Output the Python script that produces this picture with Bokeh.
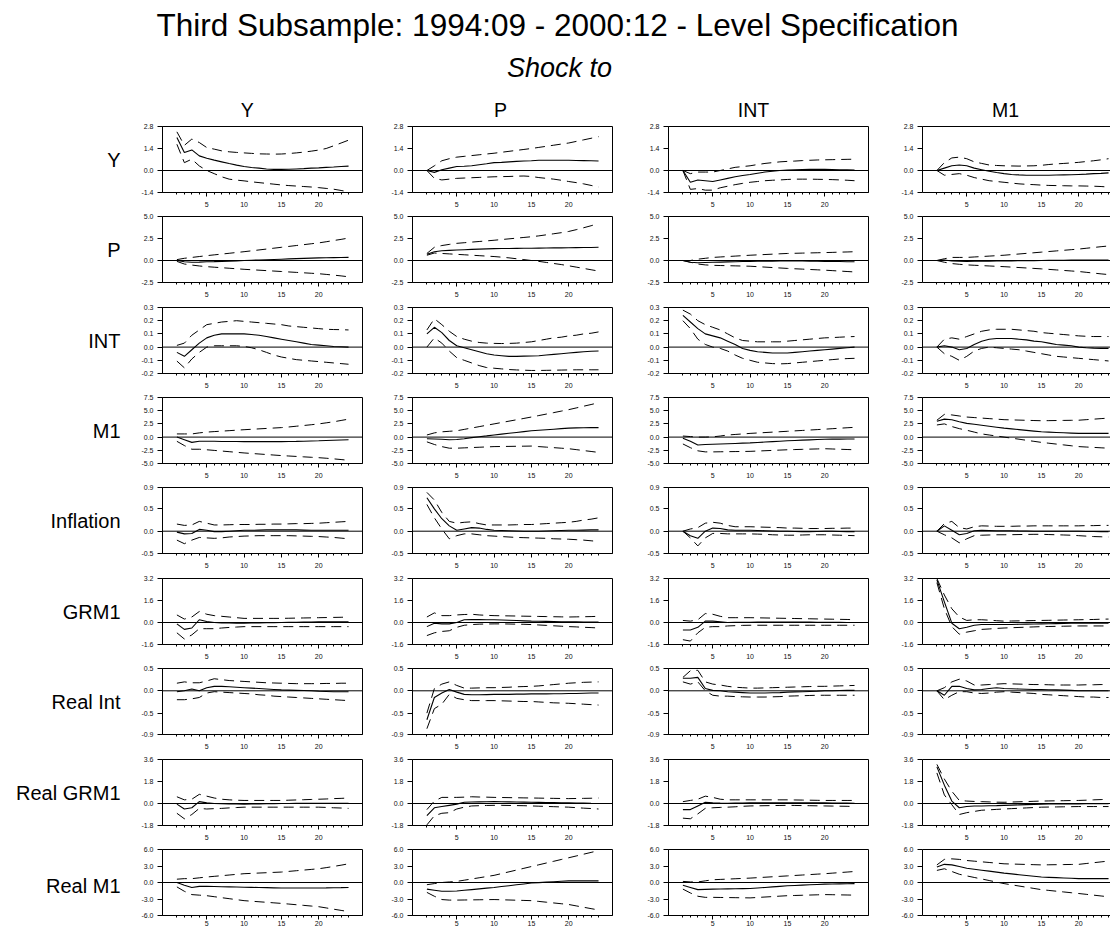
from bokeh.plotting import figure
from bokeh.layouts import column, row
from bokeh.models import Range1d, FixedTicker, CustomJSTickFormatter, Span, LinearAxis, ColumnDataSource
from bokeh.core.properties import value
from bokeh.embed import file_html
from bokeh.resources import INLINE

# ---------------- data ----------------
HORIZON = list(range(1, 25))
RESPONSES = ["Y", "P", "INT", "M1", "Inflation", "GRM1", "Real Int", "Real GRM1", "Real M1"]
SHOCKS = ["Y", "P", "INT", "M1"]
Y_LIMITS = [(-1.4, 2.8), (-2.5, 5.0), (-0.2, 0.3), (-5.0, 7.5), (-0.5, 0.98),
            (-1.6, 3.2), (-0.98, 0.5), (-1.8, 3.6), (-6.0, 6.0)]
Y_TICKS = [[-1.4, 0.0, 1.4, 2.8], [-2.5, 0.0, 2.5, 5.0], [-0.2, -0.1, 0.0, 0.1, 0.2, 0.3],
           [-5.0, -2.5, 0.0, 2.5, 5.0, 7.5], [-0.5, 0.0, 0.5, 0.98], [-1.6, 0.0, 1.6, 3.2],
           [-0.98, -0.5, 0.0, 0.5], [-1.8, 0.0, 1.8, 3.6], [-6.0, -3.0, 0.0, 3.0, 6.0]]
X_MAJOR = [5, 10, 15, 20]

# Y
irf_y_y = [2.10,1.14,1.31,0.93,0.78,0.66,0.55,0.44,0.34,0.25,0.19,0.15,0.10,0.07,0.07,0.08,0.10,0.12,0.15,0.17,0.20,0.22,0.25,0.28]
hi_y_y = [2.46,1.60,2.00,1.78,1.46,1.36,1.25,1.19,1.15,1.12,1.09,1.06,1.05,1.04,1.05,1.08,1.12,1.17,1.23,1.30,1.40,1.57,1.75,1.93]
lo_y_y = [1.67,0.50,0.72,0.29,0.00,-0.20,-0.40,-0.55,-0.61,-0.66,-0.72,-0.77,-0.82,-0.87,-0.92,-0.96,-0.99,-1.02,-1.05,-1.09,-1.14,-1.19,-1.27,-1.36]
irf_y_p = [0.00,-0.12,0.05,0.15,0.25,0.27,0.30,0.37,0.43,0.50,0.52,0.55,0.58,0.60,0.62,0.65,0.65,0.65,0.65,0.65,0.64,0.63,0.62,0.60]
hi_y_p = [0.00,0.30,0.62,0.75,0.85,0.90,0.95,1.00,1.05,1.10,1.16,1.22,1.28,1.34,1.40,1.47,1.54,1.61,1.68,1.75,1.85,1.95,2.05,2.15]
lo_y_p = [0.00,-0.50,-0.60,-0.55,-0.50,-0.48,-0.46,-0.44,-0.42,-0.40,-0.39,-0.38,-0.36,-0.35,-0.38,-0.45,-0.50,-0.55,-0.62,-0.70,-0.77,-0.85,-0.95,-1.05]
irf_y_int = [0.00,-0.75,-0.60,-0.65,-0.70,-0.60,-0.50,-0.40,-0.32,-0.25,-0.17,-0.10,-0.05,0.00,0.03,0.05,0.06,0.07,0.07,0.07,0.06,0.05,0.04,0.03]
hi_y_int = [0.00,-0.20,-0.10,-0.10,-0.10,0.00,0.10,0.20,0.25,0.30,0.38,0.45,0.50,0.55,0.58,0.60,0.63,0.65,0.67,0.68,0.69,0.70,0.71,0.72]
lo_y_int = [0.00,-1.20,-1.15,-1.25,-1.25,-1.10,-1.00,-0.90,-0.82,-0.75,-0.70,-0.65,-0.62,-0.60,-0.57,-0.55,-0.55,-0.55,-0.56,-0.57,-0.58,-0.60,-0.62,-0.65]
irf_y_m1 = [0.00,0.15,0.30,0.35,0.30,0.15,0.05,-0.05,-0.13,-0.20,-0.25,-0.28,-0.30,-0.30,-0.30,-0.30,-0.29,-0.28,-0.27,-0.25,-0.23,-0.20,-0.18,-0.15]
hi_y_m1 = [0.00,0.50,0.80,0.85,0.75,0.55,0.45,0.35,0.32,0.30,0.29,0.28,0.29,0.30,0.33,0.38,0.42,0.45,0.48,0.52,0.57,0.62,0.68,0.75]
lo_y_m1 = [0.00,-0.30,-0.25,-0.20,-0.30,-0.45,-0.55,-0.65,-0.70,-0.75,-0.80,-0.85,-0.88,-0.90,-0.93,-0.95,-0.96,-0.97,-0.98,-0.98,-0.99,-1.00,-1.02,-1.05]

# P
irf_p_y = [0.00,-0.15,-0.20,-0.18,-0.15,-0.13,-0.10,-0.07,-0.04,0.00,0.03,0.06,0.09,0.12,0.15,0.18,0.21,0.24,0.27,0.30,0.32,0.33,0.34,0.35]
hi_p_y = [0.10,0.25,0.35,0.45,0.55,0.64,0.73,0.82,0.91,1.00,1.10,1.20,1.30,1.40,1.50,1.60,1.70,1.80,1.90,2.00,2.13,2.27,2.40,2.55]
lo_p_y = [-0.10,-0.40,-0.52,-0.62,-0.70,-0.76,-0.82,-0.88,-0.94,-1.00,-1.05,-1.10,-1.15,-1.20,-1.25,-1.30,-1.35,-1.40,-1.45,-1.50,-1.58,-1.66,-1.75,-1.85]
irf_p_p = [0.70,1.00,1.10,1.15,1.20,1.23,1.26,1.29,1.32,1.35,1.36,1.37,1.38,1.39,1.40,1.41,1.42,1.43,1.44,1.45,1.46,1.47,1.48,1.50]
hi_p_p = [0.80,1.50,1.70,1.83,1.95,2.02,2.09,2.16,2.23,2.30,2.38,2.46,2.54,2.62,2.70,2.80,2.92,3.04,3.16,3.30,3.50,3.72,3.95,4.20]
lo_p_p = [0.60,0.85,0.80,0.75,0.70,0.65,0.60,0.55,0.50,0.45,0.38,0.30,0.20,0.10,0.00,-0.10,-0.22,-0.34,-0.46,-0.60,-0.75,-0.90,-1.05,-1.20]
irf_p_int = [0.00,-0.20,-0.25,-0.22,-0.20,-0.18,-0.16,-0.14,-0.12,-0.10,-0.09,-0.08,-0.07,-0.06,-0.05,-0.05,-0.06,-0.07,-0.08,-0.10,-0.11,-0.12,-0.14,-0.15]
hi_p_int = [0.00,0.00,0.15,0.25,0.35,0.40,0.45,0.50,0.55,0.60,0.64,0.68,0.72,0.76,0.80,0.82,0.84,0.86,0.88,0.90,0.92,0.95,0.97,1.00]
lo_p_int = [0.00,-0.20,-0.40,-0.50,-0.55,-0.57,-0.59,-0.61,-0.63,-0.65,-0.70,-0.75,-0.80,-0.85,-0.90,-0.94,-0.98,-1.02,-1.06,-1.10,-1.15,-1.20,-1.25,-1.30]
irf_p_m1 = [0.00,0.05,-0.05,-0.08,-0.10,-0.09,-0.08,-0.07,-0.06,-0.05,-0.04,-0.03,-0.02,-0.01,0.00,0.01,0.02,0.03,0.04,0.05,0.05,0.05,0.05,0.05]
hi_p_m1 = [0.00,0.20,0.35,0.35,0.35,0.40,0.45,0.50,0.55,0.60,0.67,0.74,0.81,0.88,0.95,1.02,1.09,1.16,1.23,1.30,1.39,1.48,1.57,1.65]
lo_p_m1 = [0.00,-0.20,-0.35,-0.43,-0.50,-0.54,-0.58,-0.62,-0.66,-0.70,-0.75,-0.80,-0.85,-0.90,-0.95,-1.01,-1.07,-1.13,-1.19,-1.25,-1.34,-1.43,-1.52,-1.60]

# INT
irf_int_y = [-0.04,-0.07,-0.02,0.03,0.07,0.09,0.10,0.10,0.10,0.10,0.095,0.09,0.08,0.07,0.06,0.05,0.04,0.03,0.02,0.015,0.01,0.005,0.003,0.0]
hi_int_y = [0.013,0.03,0.09,0.13,0.17,0.18,0.19,0.195,0.20,0.195,0.19,0.185,0.18,0.175,0.17,0.16,0.155,0.15,0.145,0.14,0.135,0.133,0.132,0.13]
lo_int_y = [-0.106,-0.157,-0.09,-0.04,0.0,0.01,0.01,0.01,0.01,0.005,-0.005,-0.02,-0.04,-0.06,-0.075,-0.085,-0.095,-0.10,-0.105,-0.11,-0.115,-0.12,-0.125,-0.13]
irf_int_p = [0.10,0.15,0.11,0.05,0.01,-0.005,-0.02,-0.035,-0.05,-0.06,-0.065,-0.07,-0.07,-0.068,-0.067,-0.065,-0.06,-0.055,-0.05,-0.045,-0.04,-0.035,-0.032,-0.03]
hi_int_p = [0.13,0.215,0.17,0.12,0.08,0.06,0.045,0.035,0.03,0.028,0.027,0.028,0.03,0.035,0.04,0.05,0.06,0.07,0.075,0.085,0.09,0.10,0.105,0.115]
lo_int_p = [0.00,0.07,0.03,-0.03,-0.08,-0.10,-0.12,-0.14,-0.155,-0.16,-0.165,-0.17,-0.173,-0.175,-0.177,-0.177,-0.176,-0.175,-0.174,-0.173,-0.172,-0.172,-0.172,-0.172]
irf_int_int = [0.24,0.19,0.14,0.10,0.085,0.07,0.045,0.02,-0.01,-0.025,-0.035,-0.04,-0.045,-0.045,-0.045,-0.04,-0.035,-0.03,-0.025,-0.02,-0.015,-0.01,-0.005,0.0]
hi_int_int = [0.28,0.25,0.20,0.17,0.15,0.13,0.10,0.07,0.05,0.045,0.04,0.04,0.04,0.04,0.045,0.05,0.055,0.06,0.065,0.07,0.072,0.075,0.078,0.08]
lo_int_int = [0.20,0.14,0.06,0.02,0.0,-0.01,-0.03,-0.06,-0.085,-0.10,-0.115,-0.12,-0.125,-0.127,-0.125,-0.12,-0.115,-0.11,-0.105,-0.10,-0.095,-0.09,-0.087,-0.085]
irf_int_m1 = [0.0,0.01,0.0,-0.02,-0.01,0.02,0.045,0.06,0.065,0.065,0.065,0.06,0.055,0.045,0.04,0.03,0.02,0.015,0.01,0.0,-0.005,-0.008,-0.01,-0.01]
hi_int_m1 = [0.0,0.06,0.07,0.06,0.08,0.10,0.12,0.13,0.135,0.135,0.135,0.13,0.125,0.12,0.11,0.105,0.10,0.095,0.09,0.085,0.082,0.08,0.08,0.08]
lo_int_m1 = [0.0,-0.05,-0.07,-0.10,-0.07,-0.03,-0.01,0.0,-0.005,-0.01,-0.015,-0.02,-0.03,-0.04,-0.05,-0.06,-0.07,-0.075,-0.08,-0.085,-0.09,-0.095,-0.10,-0.105]

# M1
irf_m1_y = [0.0,-0.5,-1.0,-0.8,-0.8,-0.8,-0.82,-0.83,-0.84,-0.85,-0.85,-0.85,-0.85,-0.85,-0.85,-0.83,-0.81,-0.78,-0.74,-0.70,-0.65,-0.60,-0.55,-0.50]
hi_m1_y = [0.6,0.6,0.6,0.8,0.95,1.04,1.13,1.22,1.31,1.40,1.48,1.56,1.64,1.72,1.80,1.92,2.06,2.20,2.34,2.50,2.70,2.90,3.15,3.40]
lo_m1_y = [-0.8,-1.6,-2.3,-2.3,-2.4,-2.52,-2.64,-2.76,-2.88,-3.0,-3.1,-3.2,-3.3,-3.4,-3.5,-3.58,-3.66,-3.74,-3.82,-3.9,-4.0,-4.12,-4.25,-4.4]
irf_m1_p = [-0.3,-0.35,-0.4,-0.5,-0.45,-0.3,-0.1,0.07,0.23,0.4,0.56,0.72,0.88,1.04,1.2,1.3,1.4,1.5,1.6,1.7,1.74,1.77,1.79,1.8]
hi_m1_p = [0.4,0.8,1.0,1.1,1.2,1.46,1.72,1.98,2.24,2.5,2.76,3.02,3.28,3.54,3.8,4.08,4.36,4.64,4.92,5.2,5.52,5.85,6.17,6.5]
lo_m1_p = [-0.9,-1.4,-1.8,-2.1,-2.1,-2.04,-1.98,-1.92,-1.86,-1.8,-1.78,-1.76,-1.74,-1.72,-1.7,-1.8,-1.9,-2.0,-2.1,-2.2,-2.37,-2.55,-2.72,-2.9]
irf_m1_int = [-0.2,-0.8,-1.5,-1.4,-1.35,-1.3,-1.25,-1.2,-1.15,-1.1,-1.02,-0.94,-0.86,-0.78,-0.7,-0.64,-0.58,-0.52,-0.46,-0.4,-0.39,-0.38,-0.36,-0.35]
hi_m1_int = [0.2,0.1,0.0,0.0,0.05,0.2,0.4,0.5,0.6,0.7,0.78,0.86,0.94,1.02,1.1,1.18,1.26,1.34,1.42,1.5,1.59,1.68,1.77,1.85]
lo_m1_int = [-1.3,-2.0,-2.6,-2.8,-2.8,-2.78,-2.76,-2.74,-2.72,-2.7,-2.64,-2.58,-2.52,-2.46,-2.4,-2.36,-2.32,-2.28,-2.24,-2.2,-2.25,-2.3,-2.35,-2.4]
irf_m1_m1 = [3.0,3.4,3.3,2.9,2.6,2.42,2.24,2.06,1.88,1.7,1.56,1.42,1.28,1.14,1.0,0.94,0.88,0.82,0.76,0.7,0.7,0.7,0.7,0.7]
hi_m1_m1 = [3.2,4.3,4.2,4.0,3.8,3.7,3.6,3.5,3.4,3.3,3.26,3.22,3.18,3.14,3.1,3.12,3.14,3.16,3.18,3.2,3.3,3.4,3.5,3.6]
lo_m1_m1 = [2.3,2.5,2.0,1.6,1.3,0.95,0.6,0.4,0.2,0.0,-0.2,-0.4,-0.6,-0.8,-1.0,-1.16,-1.32,-1.48,-1.64,-1.8,-1.88,-1.95,-2.03,-2.1]

# Inflation
irf_infl_y = [-0.02,-0.06,-0.05,0.04,0.02,-0.01,-0.01,0.0,0.01,0.02,0.02,0.025,0.03,0.03,0.03,0.03,0.03,0.025,0.02,0.02,0.02,0.02,0.02,0.02]
hi_infl_y = [0.16,0.13,0.14,0.22,0.18,0.14,0.14,0.145,0.15,0.15,0.15,0.155,0.155,0.16,0.16,0.165,0.17,0.17,0.175,0.18,0.19,0.2,0.21,0.22]
lo_infl_y = [-0.2,-0.28,-0.2,-0.14,-0.15,-0.16,-0.15,-0.13,-0.12,-0.11,-0.105,-0.1,-0.1,-0.1,-0.1,-0.1,-0.105,-0.11,-0.115,-0.12,-0.13,-0.14,-0.155,-0.17]
irf_infl_p = [0.75,0.5,0.28,0.12,0.02,0.05,0.08,0.07,0.04,0.02,0.015,0.01,0.005,0.0,0.0,0.0,0.005,0.01,0.015,0.02,0.02,0.025,0.03,0.03]
hi_infl_p = [0.87,0.7,0.42,0.22,0.18,0.2,0.21,0.17,0.14,0.14,0.14,0.14,0.145,0.15,0.15,0.16,0.17,0.18,0.19,0.2,0.22,0.25,0.27,0.3]
lo_infl_p = [0.6,0.3,0.05,-0.17,-0.1,-0.06,-0.06,-0.08,-0.1,-0.11,-0.12,-0.13,-0.14,-0.145,-0.15,-0.155,-0.16,-0.17,-0.175,-0.18,-0.19,-0.2,-0.215,-0.23]
irf_infl_int = [0.0,-0.1,-0.16,0.0,0.07,0.06,0.03,0.02,0.02,0.02,0.015,0.01,0.005,0.0,0.0,-0.005,-0.01,-0.01,-0.005,0.0,0.0,-0.005,-0.01,-0.01]
hi_infl_int = [0.0,0.05,0.08,0.18,0.2,0.18,0.13,0.1,0.1,0.1,0.095,0.09,0.085,0.08,0.07,0.07,0.065,0.06,0.06,0.06,0.065,0.065,0.07,0.07]
lo_infl_int = [0.0,-0.15,-0.33,-0.15,-0.05,-0.05,-0.06,-0.06,-0.06,-0.06,-0.065,-0.07,-0.08,-0.085,-0.09,-0.09,-0.085,-0.08,-0.08,-0.08,-0.085,-0.09,-0.095,-0.1]
irf_infl_m1 = [0.0,0.12,0.02,-0.08,-0.05,0.01,0.02,0.015,0.01,0.01,0.01,0.005,0.005,0.0,0.0,0.0,0.0,0.0,0.0,0.0,-0.005,-0.005,-0.01,-0.01]
hi_infl_m1 = [0.0,0.17,0.22,0.08,0.05,0.1,0.12,0.115,0.11,0.11,0.11,0.115,0.115,0.12,0.12,0.12,0.12,0.12,0.12,0.12,0.125,0.125,0.13,0.13]
lo_infl_m1 = [0.0,-0.08,-0.15,-0.26,-0.17,-0.1,-0.09,-0.085,-0.08,-0.08,-0.078,-0.075,-0.072,-0.07,-0.07,-0.075,-0.08,-0.085,-0.09,-0.1,-0.11,-0.12,-0.125,-0.13]

# GRM1
irf_grm1_y = [-0.1,-0.5,-0.4,0.2,0.07,0.0,-0.03,-0.04,-0.05,-0.05,-0.04,-0.03,-0.02,-0.01,0.0,0.01,0.02,0.03,0.04,0.05,0.05,0.05,0.05,0.05]
hi_grm1_y = [0.55,0.25,0.4,0.8,0.6,0.5,0.45,0.4,0.35,0.3,0.3,0.3,0.3,0.3,0.3,0.31,0.32,0.33,0.34,0.35,0.36,0.37,0.38,0.4]
lo_grm1_y = [-0.75,-1.2,-0.9,-0.45,-0.45,-0.45,-0.4,-0.36,-0.33,-0.3,-0.3,-0.3,-0.3,-0.3,-0.3,-0.3,-0.3,-0.3,-0.3,-0.3,-0.3,-0.3,-0.3,-0.3]
irf_grm1_p = [-0.3,-0.05,-0.1,-0.1,0.0,0.2,0.22,0.21,0.2,0.2,0.18,0.16,0.14,0.12,0.1,0.09,0.08,0.07,0.06,0.05,0.045,0.04,0.035,0.03]
hi_grm1_p = [0.4,0.7,0.5,0.5,0.55,0.58,0.6,0.55,0.52,0.5,0.49,0.48,0.47,0.46,0.45,0.44,0.43,0.42,0.41,0.4,0.41,0.42,0.43,0.45]
lo_grm1_p = [-0.95,-0.75,-0.65,-0.6,-0.35,-0.2,-0.15,-0.12,-0.11,-0.1,-0.1,-0.11,-0.12,-0.13,-0.15,-0.18,-0.21,-0.24,-0.27,-0.3,-0.32,-0.35,-0.37,-0.4]
irf_grm1_int = [-0.55,-0.55,-0.35,0.1,0.1,0.05,0.0,0.01,0.015,0.02,0.025,0.03,0.03,0.03,0.03,0.03,0.03,0.025,0.02,0.02,0.015,0.01,0.005,0.0]
hi_grm1_int = [0.15,0.1,0.2,0.65,0.6,0.45,0.35,0.35,0.35,0.35,0.34,0.33,0.32,0.31,0.3,0.29,0.28,0.27,0.26,0.25,0.24,0.23,0.22,0.2]
lo_grm1_int = [-1.25,-1.35,-0.75,-0.35,-0.3,-0.3,-0.25,-0.23,-0.21,-0.2,-0.2,-0.2,-0.2,-0.2,-0.2,-0.2,-0.2,-0.2,-0.2,-0.2,-0.2,-0.2,-0.2,-0.2]
irf_grm1_m1 = [3.1,1.5,-0.05,-0.45,-0.35,-0.2,-0.15,-0.15,-0.15,-0.15,-0.14,-0.13,-0.12,-0.11,-0.1,-0.09,-0.08,-0.07,-0.06,-0.05,-0.05,-0.05,-0.05,-0.05]
hi_grm1_m1 = [3.2,2.0,1.0,0.4,0.15,0.2,0.2,0.17,0.13,0.1,0.11,0.12,0.13,0.14,0.15,0.16,0.17,0.18,0.19,0.2,0.21,0.22,0.24,0.25]
lo_grm1_m1 = [2.9,1.0,-0.3,-0.85,-0.7,-0.6,-0.5,-0.47,-0.43,-0.4,-0.38,-0.36,-0.34,-0.32,-0.3,-0.29,-0.28,-0.27,-0.26,-0.25,-0.25,-0.25,-0.25,-0.25]

# Real Int
irf_rint_y = [-0.02,0.0,0.04,0.0,0.07,0.1,0.1,0.09,0.08,0.07,0.06,0.05,0.04,0.03,0.02,0.015,0.01,0.005,0.0,-0.01,-0.015,-0.02,-0.02,-0.02]
hi_rint_y = [0.17,0.2,0.18,0.18,0.22,0.27,0.25,0.23,0.22,0.21,0.2,0.19,0.18,0.175,0.17,0.165,0.16,0.16,0.16,0.16,0.165,0.165,0.17,0.17]
lo_rint_y = [-0.2,-0.2,-0.18,-0.15,-0.05,-0.02,-0.03,-0.04,-0.05,-0.06,-0.07,-0.09,-0.1,-0.12,-0.13,-0.14,-0.15,-0.16,-0.17,-0.18,-0.19,-0.2,-0.21,-0.22]
irf_rint_p = [-0.65,-0.15,-0.05,0.03,-0.03,-0.08,-0.09,-0.09,-0.085,-0.08,-0.08,-0.08,-0.075,-0.075,-0.07,-0.07,-0.07,-0.065,-0.065,-0.06,-0.06,-0.055,-0.05,-0.05]
hi_rint_p = [-0.5,0.05,0.15,0.2,0.12,0.06,0.06,0.065,0.07,0.07,0.075,0.08,0.09,0.095,0.1,0.11,0.125,0.14,0.155,0.17,0.18,0.19,0.195,0.2]
lo_rint_p = [-0.85,-0.4,-0.3,-0.08,-0.17,-0.2,-0.22,-0.22,-0.22,-0.22,-0.225,-0.23,-0.235,-0.24,-0.24,-0.25,-0.26,-0.27,-0.275,-0.28,-0.29,-0.3,-0.31,-0.32]
irf_rint_int = [0.28,0.28,0.3,0.05,0.01,0.0,-0.02,-0.03,-0.04,-0.05,-0.05,-0.05,-0.045,-0.04,-0.03,-0.025,-0.02,-0.015,-0.01,0.0,0.0,0.005,0.01,0.01]
hi_rint_int = [0.3,0.45,0.46,0.2,0.15,0.13,0.1,0.08,0.07,0.06,0.06,0.065,0.07,0.075,0.08,0.085,0.09,0.095,0.1,0.1,0.105,0.11,0.115,0.12]
lo_rint_int = [0.2,0.15,0.2,0.0,-0.1,-0.12,-0.12,-0.13,-0.135,-0.14,-0.14,-0.14,-0.135,-0.13,-0.12,-0.115,-0.11,-0.105,-0.1,-0.1,-0.1,-0.1,-0.1,-0.1]
irf_rint_m1 = [0.0,-0.1,0.1,0.1,0.05,0.02,0.03,0.05,0.07,0.05,0.045,0.04,0.035,0.03,0.03,0.025,0.02,0.015,0.01,0.0,0.0,0.0,0.0,0.0]
hi_rint_m1 = [0.0,0.07,0.2,0.26,0.22,0.13,0.13,0.14,0.15,0.16,0.155,0.15,0.145,0.14,0.14,0.135,0.13,0.13,0.13,0.13,0.135,0.135,0.14,0.14]
lo_rint_m1 = [0.0,-0.2,-0.1,-0.02,-0.02,-0.05,-0.06,-0.05,-0.03,-0.02,-0.03,-0.04,-0.05,-0.06,-0.08,-0.09,-0.1,-0.11,-0.12,-0.13,-0.14,-0.14,-0.15,-0.15]

# Real GRM1
irf_rgrm1_y = [-0.05,-0.45,-0.35,0.15,0.05,0.0,-0.02,-0.03,-0.04,-0.05,-0.04,-0.03,-0.02,-0.01,0.0,0.0,0.01,0.01,0.02,0.02,0.02,0.02,0.02,0.02]
hi_rgrm1_y = [0.55,0.3,0.35,0.75,0.6,0.45,0.35,0.3,0.27,0.25,0.25,0.25,0.25,0.25,0.25,0.27,0.29,0.31,0.33,0.35,0.37,0.4,0.42,0.45]
lo_rgrm1_y = [-0.8,-1.25,-0.9,-0.4,-0.45,-0.42,-0.4,-0.36,-0.33,-0.3,-0.3,-0.3,-0.3,-0.3,-0.3,-0.3,-0.3,-0.3,-0.3,-0.3,-0.32,-0.35,-0.37,-0.4]
irf_rgrm1_p = [-1.0,-0.35,-0.25,-0.15,-0.05,0.1,0.12,0.13,0.14,0.15,0.14,0.13,0.12,0.11,0.1,0.09,0.08,0.07,0.06,0.05,0.04,0.03,0.01,0.0]
hi_rgrm1_p = [-0.5,0.2,0.5,0.5,0.5,0.52,0.55,0.53,0.52,0.5,0.49,0.48,0.47,0.46,0.45,0.44,0.43,0.42,0.41,0.4,0.41,0.42,0.43,0.45]
lo_rgrm1_p = [-1.75,-1.0,-0.8,-0.75,-0.45,-0.3,-0.2,-0.18,-0.16,-0.15,-0.15,-0.16,-0.17,-0.18,-0.2,-0.22,-0.24,-0.26,-0.28,-0.3,-0.34,-0.38,-0.41,-0.45]
irf_rgrm1_int = [-0.5,-0.5,-0.2,0.1,0.05,0.03,0.02,0.03,0.04,0.05,0.05,0.05,0.05,0.05,0.05,0.05,0.05,0.05,0.05,0.05,0.04,0.03,0.03,0.02]
hi_rgrm1_int = [0.15,0.25,0.35,0.6,0.5,0.35,0.3,0.3,0.3,0.3,0.3,0.3,0.3,0.3,0.3,0.29,0.28,0.27,0.26,0.25,0.25,0.25,0.25,0.25]
lo_rgrm1_int = [-1.2,-1.25,-0.85,-0.4,-0.35,-0.32,-0.3,-0.27,-0.23,-0.2,-0.19,-0.18,-0.17,-0.16,-0.15,-0.16,-0.17,-0.18,-0.19,-0.2,-0.21,-0.22,-0.23,-0.25]
irf_rgrm1_m1 = [3.0,1.5,0.2,-0.35,-0.25,-0.2,-0.2,-0.18,-0.17,-0.15,-0.13,-0.11,-0.09,-0.07,-0.05,-0.045,-0.04,-0.035,-0.03,-0.03,-0.025,-0.02,-0.02,-0.02]
hi_rgrm1_m1 = [3.2,2.0,1.0,0.25,0.2,0.17,0.15,0.13,0.11,0.1,0.12,0.14,0.16,0.18,0.2,0.21,0.22,0.23,0.24,0.25,0.27,0.3,0.32,0.35]
lo_rgrm1_m1 = [2.5,0.7,-0.1,-0.9,-0.75,-0.65,-0.55,-0.52,-0.48,-0.45,-0.42,-0.39,-0.36,-0.33,-0.3,-0.29,-0.28,-0.27,-0.26,-0.25,-0.25,-0.25,-0.25,-0.25]

# Real M1
irf_rm1_y = [0.0,-0.5,-0.9,-0.7,-0.7,-0.73,-0.76,-0.79,-0.82,-0.85,-0.88,-0.91,-0.94,-0.97,-1.0,-1.0,-1.0,-1.0,-1.0,-1.0,-0.98,-0.95,-0.93,-0.9]
hi_rm1_y = [0.6,0.7,0.7,0.85,1.0,1.12,1.24,1.36,1.48,1.6,1.66,1.72,1.78,1.84,1.9,2.02,2.14,2.26,2.38,2.5,2.7,2.92,3.15,3.4]
lo_rm1_y = [-0.8,-1.6,-2.2,-2.3,-2.4,-2.58,-2.76,-2.94,-3.12,-3.3,-3.4,-3.5,-3.6,-3.7,-3.8,-3.92,-4.04,-4.16,-4.28,-4.4,-4.62,-4.85,-5.07,-5.3]
irf_rm1_p = [-1.2,-1.4,-1.6,-1.6,-1.55,-1.42,-1.29,-1.16,-1.03,-0.9,-0.74,-0.58,-0.42,-0.26,-0.1,-0.02,0.06,0.14,0.22,0.3,0.3,0.3,0.3,0.3]
hi_rm1_p = [-0.4,-0.2,0.0,0.1,0.2,0.42,0.64,0.86,1.08,1.3,1.62,1.94,2.26,2.58,2.9,3.22,3.54,3.86,4.18,4.5,4.82,5.15,5.47,5.8]
lo_rm1_p = [-1.8,-2.5,-3.1,-3.2,-3.2,-3.18,-3.16,-3.14,-3.12,-3.1,-3.14,-3.18,-3.22,-3.26,-3.3,-3.44,-3.58,-3.72,-3.86,-4.0,-4.25,-4.5,-4.75,-5.0]
irf_rm1_int = [-0.5,-0.9,-1.3,-1.25,-1.2,-1.18,-1.16,-1.14,-1.12,-1.1,-1.0,-0.9,-0.8,-0.7,-0.6,-0.54,-0.48,-0.42,-0.36,-0.3,-0.28,-0.25,-0.23,-0.2]
hi_rm1_int = [0.2,0.1,0.1,0.3,0.5,0.56,0.62,0.68,0.74,0.8,0.88,0.96,1.04,1.12,1.2,1.28,1.36,1.44,1.52,1.6,1.7,1.8,1.9,2.0]
lo_rm1_int = [-1.2,-1.9,-2.5,-2.7,-2.7,-2.72,-2.74,-2.76,-2.78,-2.8,-2.72,-2.64,-2.56,-2.48,-2.4,-2.36,-2.32,-2.28,-2.24,-2.2,-2.22,-2.25,-2.27,-2.3]
irf_rm1_m1 = [2.8,3.3,3.2,2.9,2.6,2.42,2.24,2.06,1.88,1.7,1.56,1.42,1.28,1.14,1.0,0.94,0.88,0.82,0.76,0.7,0.7,0.7,0.7,0.7]
hi_rm1_m1 = [3.2,4.2,4.3,4.2,4.0,3.88,3.76,3.64,3.52,3.4,3.36,3.32,3.28,3.24,3.2,3.22,3.24,3.26,3.28,3.3,3.45,3.6,3.75,3.9]
lo_rm1_m1 = [2.2,2.5,2.0,1.5,1.2,0.92,0.64,0.36,0.08,-0.2,-0.42,-0.64,-0.86,-1.08,-1.3,-1.44,-1.58,-1.72,-1.86,-2.0,-2.15,-2.3,-2.45,-2.6]

PANELS = [
    [(irf_y_y, lo_y_y, hi_y_y), (irf_y_p, lo_y_p, hi_y_p), (irf_y_int, lo_y_int, hi_y_int), (irf_y_m1, lo_y_m1, hi_y_m1)],
    [(irf_p_y, lo_p_y, hi_p_y), (irf_p_p, lo_p_p, hi_p_p), (irf_p_int, lo_p_int, hi_p_int), (irf_p_m1, lo_p_m1, hi_p_m1)],
    [(irf_int_y, lo_int_y, hi_int_y), (irf_int_p, lo_int_p, hi_int_p), (irf_int_int, lo_int_int, hi_int_int), (irf_int_m1, lo_int_m1, hi_int_m1)],
    [(irf_m1_y, lo_m1_y, hi_m1_y), (irf_m1_p, lo_m1_p, hi_m1_p), (irf_m1_int, lo_m1_int, hi_m1_int), (irf_m1_m1, lo_m1_m1, hi_m1_m1)],
    [(irf_infl_y, lo_infl_y, hi_infl_y), (irf_infl_p, lo_infl_p, hi_infl_p), (irf_infl_int, lo_infl_int, hi_infl_int), (irf_infl_m1, lo_infl_m1, hi_infl_m1)],
    [(irf_grm1_y, lo_grm1_y, hi_grm1_y), (irf_grm1_p, lo_grm1_p, hi_grm1_p), (irf_grm1_int, lo_grm1_int, hi_grm1_int), (irf_grm1_m1, lo_grm1_m1, hi_grm1_m1)],
    [(irf_rint_y, lo_rint_y, hi_rint_y), (irf_rint_p, lo_rint_p, hi_rint_p), (irf_rint_int, lo_rint_int, hi_rint_int), (irf_rint_m1, lo_rint_m1, hi_rint_m1)],
    [(irf_rgrm1_y, lo_rgrm1_y, hi_rgrm1_y), (irf_rgrm1_p, lo_rgrm1_p, hi_rgrm1_p), (irf_rgrm1_int, lo_rgrm1_int, hi_rgrm1_int), (irf_rgrm1_m1, lo_rgrm1_m1, hi_rgrm1_m1)],
    [(irf_rm1_y, lo_rm1_y, hi_rm1_y), (irf_rm1_p, lo_rm1_p, hi_rm1_p), (irf_rm1_int, lo_rm1_int, hi_rm1_int), (irf_rm1_m1, lo_rm1_m1, hi_rm1_m1)],
]

TITLE = "Third Subsample: 1994:09 - 2000:12 - Level Specification"
SUBTITLE = "Shock to"

# ---------------- layout ----------------
FONT = "Liberation Sans"
HEADER_H = 121
ROW_H = [90, 91, 90, 90, 91, 90, 91, 90, 84]
LABEL_W = 132
COL_W = [250, 256, 254, 218]
FRAME_LEFT = 30
FRAME_W = [200, 200, 200, 188]
FRAME_TOP = 5
FRAME_H = 66
X_START = -0.93
X_PER_PX = 26.8 / 200.0
TOTAL_W = LABEL_W + sum(COL_W)

TICK_FMT = CustomJSTickFormatter(code="""
const v = Math.trunc(tick * 10 + (tick >= 0 ? 1e-6 : -1e-6)) / 10;
return v.toFixed(1);
""")


def blank_fig(w, h):
    f = figure(width=w, height=h, x_range=Range1d(0, w), y_range=Range1d(h, 0),
               output_backend="svg", toolbar_location=None, title=None,
               x_axis_location=None, y_axis_location=None,
               min_border=0, min_border_left=0, min_border_right=0,
               min_border_top=0, min_border_bottom=0,
               outline_line_color=None, background_fill_color="white",
               border_fill_color="white")
    f.grid.visible = False
    return f


header = blank_fig(TOTAL_W, HEADER_H)
header.text(x=[557], y=[24.5], text=[TITLE], text_font=value(FONT), text_font_size="31.5px",
            text_align="center", text_baseline="middle", text_color="black")
header.text(x=[559], y=[67], text=[SUBTITLE], text_font=value(FONT), text_font_size="27px",
            text_font_style="italic", text_align="center", text_baseline="middle",
            text_color="black")
header_x = [246.7, 500, 753, 1005]
header.text(x=header_x, y=[109.5] * len(SHOCKS), text=SHOCKS, text_font=value(FONT),
            text_font_size="19.5px", text_align="center", text_baseline="middle",
            text_color="black")

rows = [header]
for r, resp in enumerate(RESPONSES):
    h = ROW_H[r]
    last = (r == len(RESPONSES) - 1)
    lab = blank_fig(LABEL_W, h)
    lab.text(x=[120], y=[FRAME_TOP + 41], text=[resp], text_font=value(FONT),
             text_font_size="20px", text_align="right", text_baseline="middle",
             text_color="black")
    figs = [lab]
    for c, shock in enumerate(SHOCKS):
        irf, lo, hi = PANELS[r][c]
        x_end = X_START + FRAME_W[c] * X_PER_PX
        p = figure(width=COL_W[c], height=h,
                   x_range=Range1d(X_START, x_end), y_range=Range1d(*Y_LIMITS[r]),
                   output_backend="svg", toolbar_location=None, title=None,
                   min_border_left=FRAME_LEFT, min_border_right=COL_W[c] - FRAME_LEFT - FRAME_W[c],
                   min_border_top=FRAME_TOP, min_border_bottom=h - FRAME_TOP - FRAME_H,
                   background_fill_color="white", border_fill_color="white")
        p.grid.visible = False

        xa = p.below[0]
        xa.ticker = FixedTicker(ticks=X_MAJOR, minor_ticks=HORIZON)
        xa.major_tick_out = 4
        xa.major_tick_in = 0
        xa.minor_tick_out = 2
        xa.minor_tick_in = 0
        xa.major_label_text_font = FONT
        xa.major_label_text_font_size = "7px"
        xa.major_label_standoff = 1 if last else 5
        xa.major_label_text_color = "#111111"
        xa.axis_line_color = "black"

        ya = p.left[0]
        ya.ticker = FixedTicker(ticks=Y_TICKS[r])
        ya.formatter = TICK_FMT
        ya.major_tick_out = 5
        ya.major_tick_in = 0
        ya.minor_tick_line_color = None
        ya.major_label_text_font = FONT
        ya.major_label_text_font_size = "7px"
        ya.major_label_standoff = 4
        ya.major_label_text_color = "#111111"
        ya.axis_line_color = "black"

        if c < 3:
            p.outline_line_color = "black"
            p.outline_line_width = 1
            p.outline_line_alpha = 1
        else:
            p.outline_line_color = None
            top = LinearAxis(ticker=FixedTicker(ticks=[]), major_tick_out=0, major_tick_in=0,
                             minor_tick_out=0, minor_tick_in=0, major_label_text_font_size="7px",
                             major_label_standoff=0, axis_line_color="black", axis_line_width=1)
            p.add_layout(top, "above")

        src = ColumnDataSource(dict(h=HORIZON, irf=irf, lo=lo, hi=hi))
        p.add_layout(Span(location=0, dimension="width", line_color="black", line_width=1))
        p.line("h", "hi", source=src, line_color="black", line_width=1, line_dash="10 6")
        p.line("h", "lo", source=src, line_color="black", line_width=1, line_dash="10 6")
        p.line("h", "irf", source=src, line_color="black", line_width=1.1)
        figs.append(p)
    rows.append(row(*figs))

layout = column(*rows)
open("out.html", "w").write(file_html(layout, INLINE))
